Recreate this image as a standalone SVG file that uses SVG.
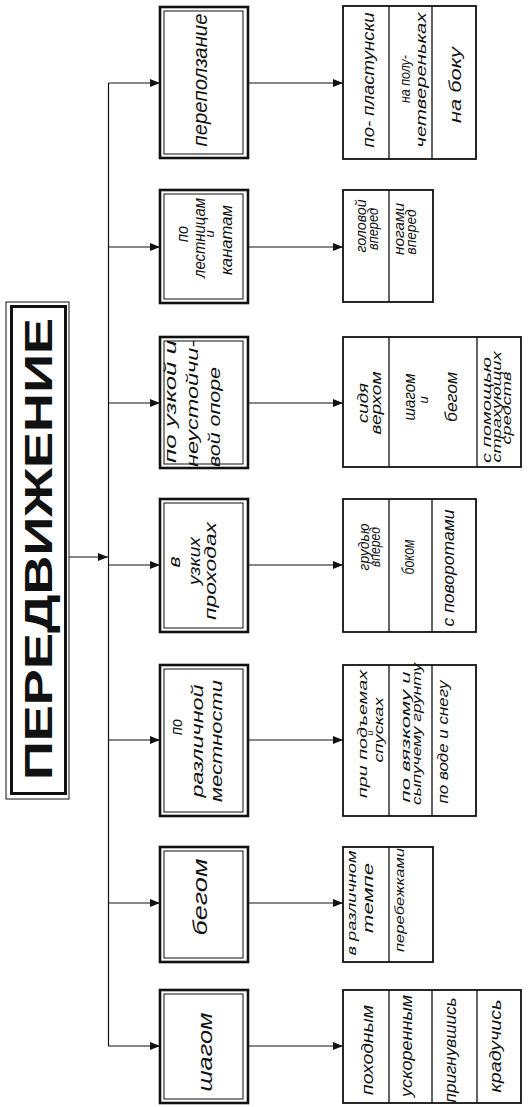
<svg xmlns="http://www.w3.org/2000/svg" width="530" height="1107" viewBox="0 0 530 1107">
<style>
.bg{fill:#fff}
.o{fill:#fff;stroke:#111;stroke-width:2.6}
.i{fill:none;stroke:#111;stroke-width:1}
.s{fill:#fff;stroke:#111;stroke-width:1.8}
.d{stroke:#111;stroke-width:1.3}
.c{fill:none;stroke:#111;stroke-width:1.2}
.t{font-family:"Liberation Sans","DejaVu Sans",sans-serif;font-style:italic;fill:#111;text-anchor:middle}
.m{font-size:17px}
.L{font-size:21px}
.n{font-size:17px}
.p{font-size:14px}
.k{font-size:13px}
.st{text-anchor:start}
.h{font-family:"Liberation Sans","DejaVu Sans",sans-serif;font-weight:bold;font-size:38px;fill:#111;text-anchor:middle}
</style>
<defs>
<marker id="ah" viewBox="0 0 10 8" refX="10" refY="4" markerWidth="10" markerHeight="8" markerUnits="userSpaceOnUse" orient="auto">
<path d="M0,0 L10,4 L0,8 z" fill="#111"/>
</marker>
</defs>
<rect class="bg" x="0" y="0" width="530" height="1107"/>

<g id="connectors">
<path class="c" d="M108.5,83 V1046"/>
<path class="c" d="M67,557 H108" marker-end="url(#ah)"/>
<path class="c" d="M108.5,83 H160" marker-end="url(#ah)"/>
<path class="c" d="M108.5,247 H160" marker-end="url(#ah)"/>
<path class="c" d="M108.5,403 H160" marker-end="url(#ah)"/>
<path class="c" d="M108.5,565 H160" marker-end="url(#ah)"/>
<path class="c" d="M108.5,740 H160" marker-end="url(#ah)"/>
<path class="c" d="M108.5,903 H160" marker-end="url(#ah)"/>
<path class="c" d="M108.5,1046 H160" marker-end="url(#ah)"/>
<path class="c" d="M248,83 H343" marker-end="url(#ah)"/>
<path class="c" d="M248,247 H343" marker-end="url(#ah)"/>
<path class="c" d="M248,403 H343" marker-end="url(#ah)"/>
<path class="c" d="M248,565 H343" marker-end="url(#ah)"/>
<path class="c" d="M248,740 H343" marker-end="url(#ah)"/>
<path class="c" d="M248,903 H343" marker-end="url(#ah)"/>
<path class="c" d="M248,1046 H343" marker-end="url(#ah)"/>
</g>

<g id="title">
<rect x="6" y="302" width="63" height="497" fill="#fff" stroke="#111" stroke-width="1"/>
<rect x="11.5" y="306.5" width="54" height="487" fill="none" stroke="#111" stroke-width="3"/>
<text class="h" transform="translate(52,549) rotate(-90)" textLength="462" lengthAdjust="spacingAndGlyphs">ПЕРЕДВИЖЕНИЕ</text>
</g>

<g id="n1">
<rect class="o" x="160" y="7" width="88" height="151"/>
<rect class="i" x="164" y="11" width="79" height="143"/>
<text class="t L" transform="translate(207,80) rotate(-90)" textLength="133" lengthAdjust="spacingAndGlyphs">переползание</text>
</g>
<g id="n2">
<rect class="o" x="160" y="190" width="88" height="113"/>
<rect class="i" x="164" y="194" width="79" height="105"/>
<text class="t m" transform="translate(188,234) rotate(-90)" textLength="16" lengthAdjust="spacingAndGlyphs">по</text>
<text class="t m" transform="translate(205,238) rotate(-90)" textLength="80" lengthAdjust="spacingAndGlyphs">лестницам</text>
<text class="t k" transform="translate(213.5,234) rotate(-90)">и</text>
<text class="t m" transform="translate(232,240) rotate(-90)" textLength="70" lengthAdjust="spacingAndGlyphs">канатам</text>
</g>
<g id="n3">
<rect class="o" x="160" y="337" width="88" height="131"/>
<rect class="i" x="164" y="341" width="79" height="123"/>
<text class="t m st" transform="translate(176,463) rotate(-90)" textLength="123" lengthAdjust="spacingAndGlyphs">по узкой и</text>
<text class="t m st" transform="translate(198,467) rotate(-90)" textLength="127" lengthAdjust="spacingAndGlyphs">неустойчи-</text>
<text class="t m st" transform="translate(220,467) rotate(-90)" textLength="100" lengthAdjust="spacingAndGlyphs">вой опоре</text>
</g>
<g id="n4">
<rect class="o" x="160" y="499" width="88" height="133"/>
<rect class="i" x="164" y="503" width="79" height="125"/>
<text class="t m" transform="translate(180,562) rotate(-90)" textLength="11" lengthAdjust="spacingAndGlyphs">в</text>
<text class="t m" transform="translate(200,561) rotate(-90)" textLength="48" lengthAdjust="spacingAndGlyphs">узких</text>
<text class="t m" transform="translate(216,571) rotate(-90)" textLength="98" lengthAdjust="spacingAndGlyphs">проходах</text>
</g>
<g id="n5">
<rect class="o" x="160" y="665" width="88" height="151"/>
<rect class="i" x="164" y="669" width="79" height="143"/>
<text class="t m" transform="translate(182,727) rotate(-90)" textLength="16" lengthAdjust="spacingAndGlyphs">по</text>
<text class="t m" transform="translate(203,741) rotate(-90)" textLength="113" lengthAdjust="spacingAndGlyphs">различной</text>
<text class="t m" transform="translate(222,741) rotate(-90)" textLength="122" lengthAdjust="spacingAndGlyphs">местности</text>
</g>
<g id="n6">
<rect class="o" x="160" y="847" width="88" height="115"/>
<rect class="i" x="164" y="851" width="79" height="107"/>
<text class="t L" transform="translate(207,897) rotate(-90)" textLength="77" lengthAdjust="spacingAndGlyphs">бегом</text>
</g>
<g id="n7">
<rect class="o" x="160" y="990" width="88" height="113"/>
<rect class="i" x="164" y="994" width="79" height="105"/>
<text class="t L" transform="translate(212,1052) rotate(-90)" textLength="79" lengthAdjust="spacingAndGlyphs">шагом</text>
</g>

<g id="s1">
<rect class="s" x="343" y="6" width="133" height="153"/>
<path class="d" d="M389,6 V159 M432,6 V159"/>
<text class="t n" transform="translate(374,80) rotate(-90)" textLength="135" lengthAdjust="spacingAndGlyphs">по- пластунски</text>
<text class="t p" transform="translate(410,79) rotate(-90)" textLength="48" lengthAdjust="spacingAndGlyphs">на полу-</text>
<text class="t p" transform="translate(426,80) rotate(-90)" textLength="135" lengthAdjust="spacingAndGlyphs">четвереньках</text>
<text class="t n" transform="translate(461,85) rotate(-90)" textLength="76" lengthAdjust="spacingAndGlyphs">на боку</text>
</g>
<g id="s2">
<rect class="s" x="343" y="190" width="90" height="112"/>
<path class="d" d="M389,190 V302"/>
<text class="t p" transform="translate(366,226) rotate(-90)" textLength="53" lengthAdjust="spacingAndGlyphs">головой</text>
<text class="t p" transform="translate(378,229) rotate(-90)" textLength="42" lengthAdjust="spacingAndGlyphs">вперед</text>
<text class="t p" transform="translate(404,229) rotate(-90)" textLength="52" lengthAdjust="spacingAndGlyphs">ногами</text>
<text class="t p" transform="translate(416,232) rotate(-90)" textLength="45" lengthAdjust="spacingAndGlyphs">вперед</text>
</g>
<g id="s3">
<rect class="s" x="343" y="337" width="178" height="130"/>
<path class="d" d="M389,337 V467 M477,337 V467"/>
<text class="t p" transform="translate(368,403) rotate(-90)" textLength="40" lengthAdjust="spacingAndGlyphs">сидя</text>
<text class="t p" transform="translate(381,403) rotate(-90)" textLength="63" lengthAdjust="spacingAndGlyphs">верхом</text>
<text class="t n" transform="translate(415,397) rotate(-90)" textLength="47" lengthAdjust="spacingAndGlyphs">шагом</text>
<text class="t k" transform="translate(428,400) rotate(-90)">и</text>
<text class="t n" transform="translate(457,397) rotate(-90)" textLength="50" lengthAdjust="spacingAndGlyphs">бегом</text>
<text class="t k" transform="translate(491,410) rotate(-90)" textLength="106" lengthAdjust="spacingAndGlyphs">с помощью</text>
<text class="t k" transform="translate(501,407) rotate(-90)" textLength="111" lengthAdjust="spacingAndGlyphs">страхующих</text>
<text class="t k" transform="translate(511,408) rotate(-90)" textLength="73" lengthAdjust="spacingAndGlyphs">средств</text>
</g>
<g id="s4">
<rect class="s" x="343" y="499" width="133" height="133"/>
<path class="d" d="M389,499 V632 M432,499 V632"/>
<text class="t p" transform="translate(369,547) rotate(-90)" textLength="47" lengthAdjust="spacingAndGlyphs">грудью</text>
<text class="t p" transform="translate(380,547) rotate(-90)" textLength="40" lengthAdjust="spacingAndGlyphs">вперед</text>
<text class="t n" transform="translate(414,557) rotate(-90)" textLength="35" lengthAdjust="spacingAndGlyphs">боком</text>
<text class="t n" transform="translate(454,568) rotate(-90)" textLength="117" lengthAdjust="spacingAndGlyphs">с поворотами</text>
</g>
<g id="s5">
<rect class="s" x="343" y="665" width="133" height="151"/>
<path class="d" d="M389,665 V816 M432,665 V816"/>
<text class="t k" transform="translate(367,734) rotate(-90)" textLength="128" lengthAdjust="spacingAndGlyphs">при подъемах</text>
<text class="t" style="font-size:9px" transform="translate(373,733) rotate(-90)">и</text>
<text class="t k" transform="translate(383,730) rotate(-90)" textLength="65" lengthAdjust="spacingAndGlyphs">спусках</text>
<text class="t k" transform="translate(410,737) rotate(-90)" textLength="131" lengthAdjust="spacingAndGlyphs">по вязкому и</text>
<text class="t k" transform="translate(421,734) rotate(-90)" textLength="142" lengthAdjust="spacingAndGlyphs">сыпучему грунту</text>
<text class="t p" transform="translate(448,742) rotate(-90)" textLength="123" lengthAdjust="spacingAndGlyphs">по воде и снегу</text>
</g>
<g id="s6">
<rect class="s" x="343" y="847" width="90" height="115"/>
<path class="d" d="M389,847 V962"/>
<text class="t k" transform="translate(356,903) rotate(-90)" textLength="105" lengthAdjust="spacingAndGlyphs">в различном</text>
<text class="t p" transform="translate(373,898) rotate(-90)" textLength="70" lengthAdjust="spacingAndGlyphs">темпе</text>
<text class="t k" transform="translate(404,900) rotate(-90)" textLength="104" lengthAdjust="spacingAndGlyphs">перебежками</text>
</g>
<g id="s7">
<rect class="s" x="343" y="990" width="178" height="113"/>
<path class="d" d="M389,990 V1103 M432,990 V1103 M477,990 V1103"/>
<text class="t n" transform="translate(373,1050) rotate(-90)" textLength="90" lengthAdjust="spacingAndGlyphs">походным</text>
<text class="t n" transform="translate(412,1046) rotate(-90)" textLength="102" lengthAdjust="spacingAndGlyphs">ускоренным</text>
<text class="t n" transform="translate(456,1050) rotate(-90)" textLength="105" lengthAdjust="spacingAndGlyphs">пригнувшись</text>
<text class="t n" transform="translate(501,1046) rotate(-90)" textLength="93" lengthAdjust="spacingAndGlyphs">крадучись</text>
</g>
</svg>
